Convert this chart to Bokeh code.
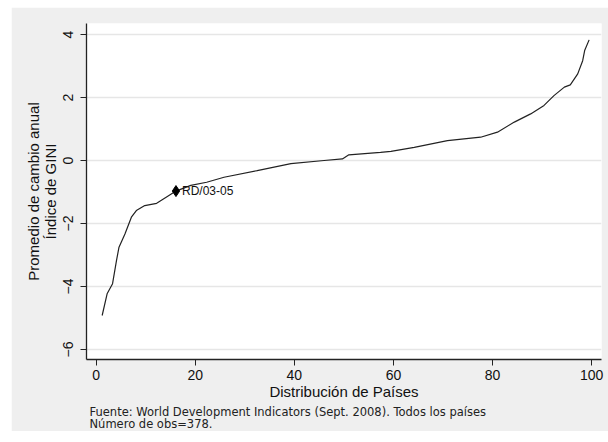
from bokeh.plotting import figure
from bokeh.models import Range1d, FixedTicker, Title, Label
from bokeh.embed import file_html
from bokeh.resources import INLINE

# Data
pct = [1.2, 2.2, 3.3, 4.1, 4.6, 5.8, 7.1, 8.1, 9.8, 12.2, 14.2, 16.1, 19.1, 22.3,
       25.8, 32.5, 39.3, 46.0, 49.7, 51.0, 57.4, 59.5, 64.2, 70.9, 77.6, 81.0,
       84.4, 87.7, 90.4, 92.4, 94.5, 95.7, 97.2, 98.2, 98.6, 99.5]
gini_change = [-4.92, -4.23, -3.91, -3.17, -2.75, -2.33, -1.80, -1.59, -1.43, -1.36,
               -1.16, -0.97, -0.79, -0.69, -0.53, -0.32, -0.10, 0.00, 0.05, 0.18,
               0.26, 0.29, 0.42, 0.63, 0.74, 0.90, 1.22, 1.48, 1.75, 2.06, 2.33,
               2.40, 2.75, 3.17, 3.49, 3.83]
rd_x = [16.1]
rd_y = [-0.97]
rd_label = "RD/03-05"
x_ticks = [0, 20, 40, 60, 80, 100]
y_ticks = [-6, -4, -2, 0, 2, 4]
x_title = "Distribución de Países"
y_title = "Promedio de cambio anual\nÍndice de GINI"
note1 = "Fuente: World Development Indicators (Sept. 2008). Todos los países"
note2 = "Número de obs=378."

BG = "#efefef"
FONT = "Liberation Sans"

p = figure(width=597, height=424, output_backend="svg", toolbar_location=None,
           x_range=Range1d(-1.96, 102.0), y_range=Range1d(-6.317, 4.35),
           min_border_left=75, min_border_top=16, min_border_right=7,
           min_border_bottom=72, margin=(7, 0, 0, 11))
p.background_fill_color = "white"
p.border_fill_color = BG
p.outline_line_color = None

p.line(pct, gini_change, line_color="#222222", line_width=1.2)
p.scatter(rd_x, rd_y, marker="diamond", size=11, fill_color="black", line_color="black")
p.add_layout(Label(x=rd_x[0], y=rd_y[0], text=rd_label, x_offset=6, y_offset=0,
                   text_baseline="middle", text_font=FONT, text_font_size="12px",
                   text_color="#111111"))

# Axes
p.xaxis.ticker = FixedTicker(ticks=x_ticks)
p.yaxis.ticker = FixedTicker(ticks=y_ticks)
for ax in (p.xaxis, p.yaxis):
    ax.axis_line_color = "#222222"
    ax.axis_line_width = 1.3
    ax.major_tick_line_color = "#222222"
    ax.major_tick_out = 6
    ax.major_tick_in = 0
    ax.minor_tick_line_color = None
    ax.major_label_text_font = FONT
    ax.major_label_text_font_size = "14px"
    ax.major_label_text_color = "#111111"
    ax.axis_label_text_font = FONT
    ax.axis_label_text_font_style = "normal"
    ax.axis_label_text_color = "#111111"

p.xaxis.axis_label = x_title
p.xaxis.axis_label_text_font_size = "15px"
p.xaxis.major_label_standoff = 4
p.xaxis.axis_label_standoff = 0
p.yaxis.axis_label = y_title
p.yaxis.axis_label_text_font_size = "15px"
p.yaxis.axis_label_text_line_height = 0.95
p.yaxis.major_label_orientation = "vertical"
p.yaxis.major_label_standoff = 7
p.yaxis.axis_label_standoff = 2

p.xgrid.grid_line_color = None
p.ygrid.grid_line_color = "#e6e6e6"
p.ygrid.grid_line_width = 1.5

p.add_layout(Title(text=note1 + "\n" + note2, align="left", text_font="DejaVu Sans",
                   text_font_size="11.5px", text_font_style="normal",
                   text_color="#222222", offset=3, standoff=0,
                   text_line_height=0.9), "below")

open("out.html", "w").write(file_html(p, INLINE))
